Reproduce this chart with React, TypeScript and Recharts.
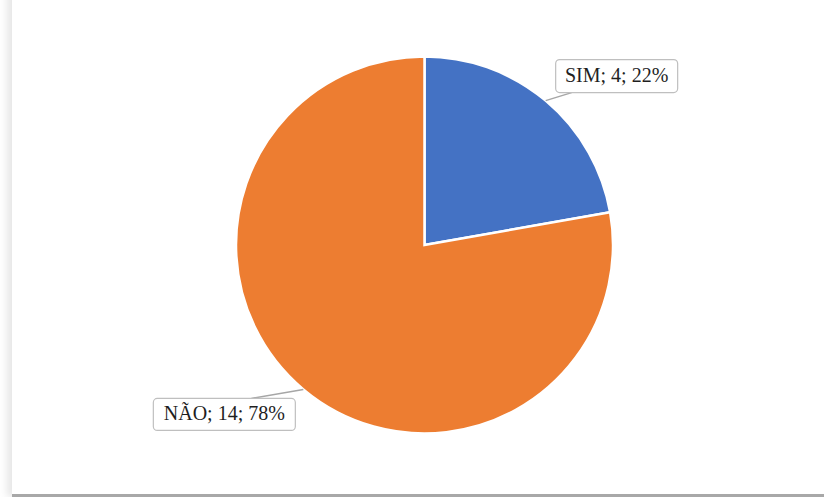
import React from "react";
import { PieChart, Pie, Cell } from "recharts";

const categories = ["SIM", "NÃO"];
const values = [4, 14];
const percents = ["22%", "78%"];
const colors = ["#4472C4", "#ED7D31"];

const data = categories.map((name, i) => ({ name, value: values[i], pct: percents[i] }));

const RAD = Math.PI / 180;

const renderLabel = (props: any) => {
  const { cx, cy, midAngle, outerRadius, index } = props;
  const ex = cx + outerRadius * Math.cos(-midAngle * RAD);
  const ey = cy + outerRadius * Math.sin(-midAngle * RAD);
  const d = data[index];
  const text = `${d.name}; ${d.value}; ${d.pct}`;
  let bx, by, bw, bh, lx, ly;
  if (index === 0) {
    bx = ex + 10; by = ey - 41; bw = 122; bh = 33; lx = ex + 26; ly = by + bh;
  } else {
    bx = ex - 150; by = ey + 9; bw = 142; bh = 32; lx = ex - 52; ly = by;
  }
  return (
    <g key={`lbl-${index}`}>
      <line x1={ex} y1={ey} x2={lx} y2={ly} stroke="#A6A6A6" strokeWidth={1.5} />
      <rect x={bx} y={by} width={bw} height={bh} rx={4} ry={4} fill="#fff" stroke="#BFBFBF" strokeWidth={1.2} />
      <text
        x={bx + bw / 2}
        y={by + bh / 2 + 1}
        textAnchor="middle"
        dominantBaseline="middle"
        fill="#1F1F1F"
        fontFamily="'Liberation Serif', 'Times New Roman', serif"
        fontSize={20}
      >
        {text}
      </text>
    </g>
  );
};

export default function App() {
  return (
    <div style={{ position: "fixed", left: 0, top: 0, width: 824, height: 497, background: "#fff", overflow: "hidden" }}>
      <div
        style={{
          position: "absolute",
          left: 12,
          top: -12,
          width: 830,
          height: 506,
          background: "#fff",
          boxShadow: "-5px 0 8px rgba(0,0,0,0.10)",
          borderBottom: "3px solid #A8A8A8",
        }}
      />
      <div style={{ position: "absolute", left: 0, top: 0 }}>
        <PieChart width={824} height={497} margin={{ top: 0, right: 0, bottom: 0, left: 0 }}>
          <Pie
            data={data}
            dataKey="value"
            nameKey="name"
            cx={424.5}
            cy={245}
            outerRadius={188.5}
            startAngle={90}
            endAngle={-270}
            stroke="#fff"
            strokeWidth={2.5}
            label={renderLabel}
            labelLine={false}
            isAnimationActive={false}
          >
            {data.map((_, i) => (
              <Cell key={i} fill={colors[i]} />
            ))}
          </Pie>
        </PieChart>
      </div>
    </div>
  );
}
